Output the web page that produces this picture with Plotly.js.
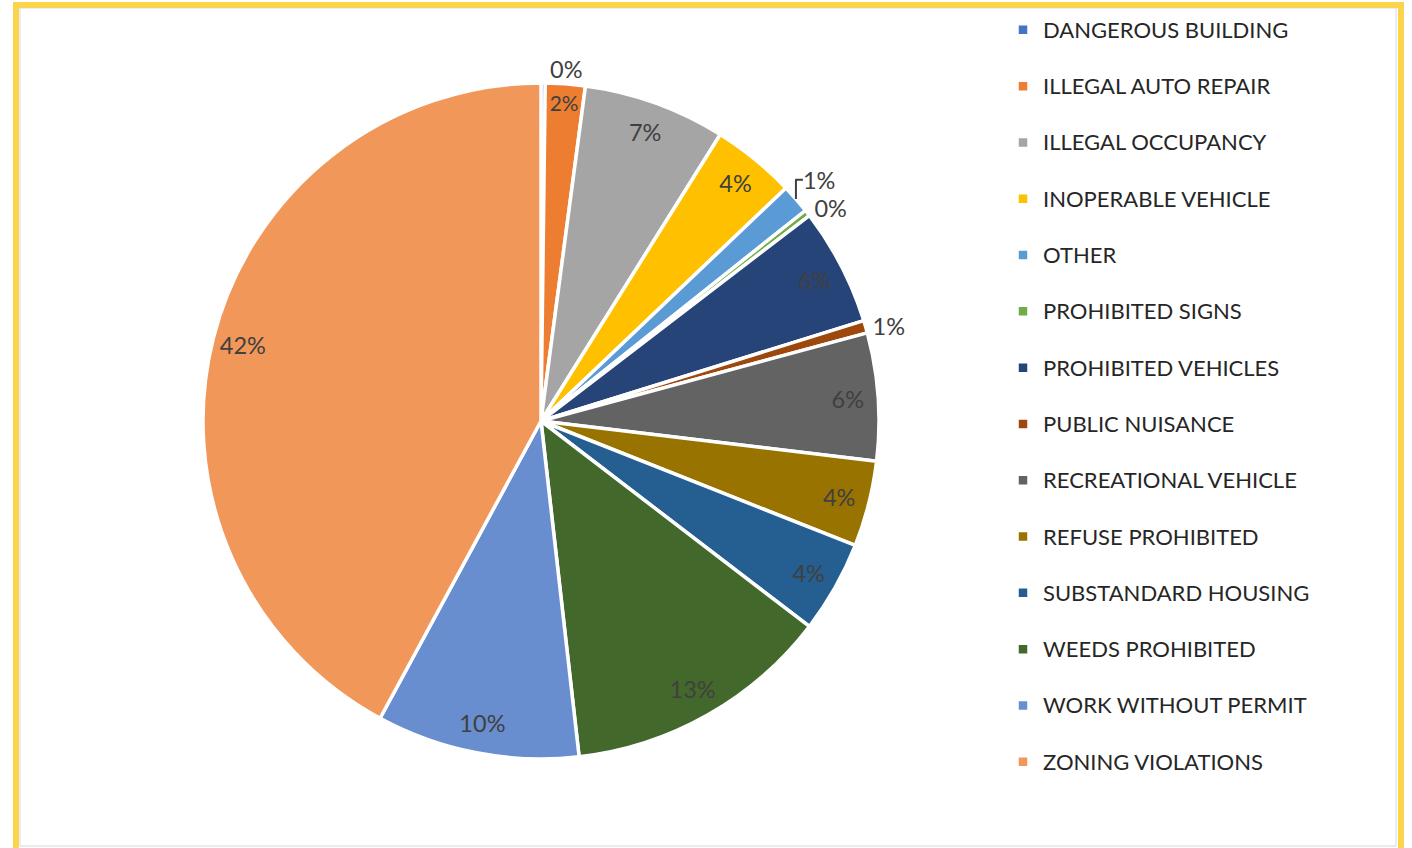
<!DOCTYPE html>
<html><head><meta charset="utf-8">
<script src="https://cdn.plot.ly/plotly-3.0.1.min.js"></script>
<style>html,body{margin:0;padding:0;background:#fff;}#chart{width:1412px;height:848px;}</style>
</head><body><div id="chart"></div><script>
const categories = [
  'DANGEROUS BUILDING','ILLEGAL AUTO REPAIR','ILLEGAL OCCUPANCY','INOPERABLE VEHICLE','OTHER',
  'PROHIBITED SIGNS','PROHIBITED VEHICLES','PUBLIC NUISANCE','RECREATIONAL VEHICLE','REFUSE PROHIBITED',
  'SUBSTANDARD HOUSING','WEEDS PROHIBITED','WORK WITHOUT PERMIT','ZONING VIOLATIONS'
];
const shares = [0.2, 1.9, 6.8, 4.0, 1.4, 0.3, 5.6, 0.6, 6.1, 4.1, 4.4, 12.8, 9.7, 42.1];
const sliceColors = [
  '#4472C4','#ED7D31','#A5A5A5','#FFC000','#5B9BD5','#70AD47','#264478',
  '#9E480E','#636363','#997300','#255E91','#43682B','#698ED0','#F1975A'
];

const W = 1412, H = 848;
const total = shares.reduce((a, b) => a + b, 0);
const textPositions = shares.map(v => (v / total < 0.015 ? 'outside' : 'inside'));
// legend entry: larger visible text, empty second line keeps Excel-like row spacing
const legendLabels = categories.map(c => '<span style="font-size:22px">' + c + '</span><br>&nbsp;');
const pieDomain = {x: [203 / W, 879 / W], y: [1 - 759 / H, 1 - 83 / H]};

const basePie = {
  type: 'pie', labels: legendLabels, values: shares, sort: false,
  direction: 'clockwise', rotation: 0, domain: pieDomain,
  marker: {colors: sliceColors, line: {color: '#ffffff', width: 3.5}},
  textinfo: 'none', hoverinfo: 'skip'
};
const labelRing = {
  type: 'pie', labels: categories, values: shares, sort: false,
  direction: 'clockwise', rotation: 0, domain: pieDomain, hole: 0.82,
  showlegend: false,
  marker: {colors: shares.map(() => 'rgba(0,0,0,0)'), line: {width: 0}},
  texttemplate: '%{percent:.0%}', textposition: textPositions,
  insidetextorientation: 'horizontal',
  textfont: {family: 'Lato', size: 23.5, color: '#404040'},
  hoverinfo: 'skip'
};

const layout = {
  width: W, height: H,
  margin: {l: 0, r: 0, t: 0, b: 0},
  paper_bgcolor: '#ffffff',
  showlegend: true,
  legend: {
    x: 1003 / W, xanchor: 'left', y: 1 - 10 / H, yanchor: 'top',
    font: {family: 'Lato', size: 20.5, color: '#262626'},
    valign: 'top', bgcolor: 'rgba(0,0,0,0)', traceorder: 'normal'
  },
  shapes: [
    {type: 'rect', xref: 'paper', yref: 'paper', x0: 20 / W, x1: 1396 / W, y0: 1 - 846 / H, y1: 1 - 8 / H,
     line: {color: '#D9D9D9', width: 1}, layer: 'below'},
    {type: 'rect', xref: 'paper', yref: 'paper', x0: 16 / W, x1: 1401 / W, y0: -0.05, y1: 1 - 5 / H,
     line: {color: '#FAD54B', width: 6}, layer: 'above'}
  ]
};

Plotly.newPlot('chart', [basePie, labelRing], layout, {staticPlot: true});
</script></body></html>
